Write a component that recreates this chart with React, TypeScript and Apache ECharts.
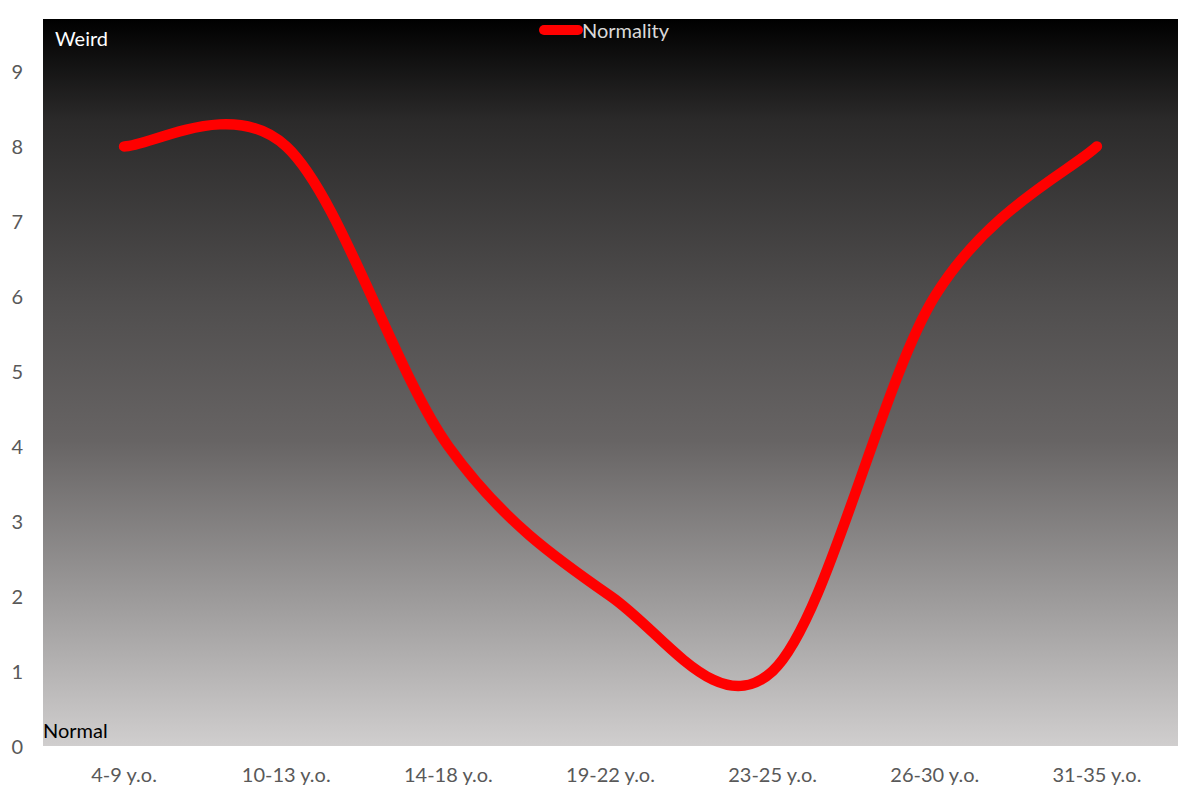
import React, { useEffect, useRef } from "react";
import * as echarts from "echarts";

const categories = ["4-9 y.o.", "10-13 y.o.", "14-18 y.o.", "19-22 y.o.", "23-25 y.o.", "26-30 y.o.", "31-35 y.o."];
const normality = [8, 8, 4, 2, 1, 6, 8];
const seriesName = "Normality";
const topLabel = "Weird";
const bottomLabel = "Normal";

export default function App() {
  const ref = useRef<HTMLDivElement>(null);
  useEffect(() => {
    if (!ref.current) return;
    const chart = echarts.init(ref.current, undefined, { renderer: "svg" });
    const font = "Lato, 'Open Sans', sans-serif";
    chart.setOption({
      animation: false,
      backgroundColor: "#ffffff",
      grid: {
        left: 43,
        right: 22,
        top: 19,
        bottom: 54,
        show: true,
        borderWidth: 0,
        backgroundColor: new echarts.graphic.LinearGradient(0, 0, 0, 1, [
          { offset: 0, color: "#000000" },
          { offset: 0.14, color: "#2b2a2a" },
          { offset: 0.39, color: "#504e4e" },
          { offset: 0.58, color: "#676464" },
          { offset: 0.8, color: "#9d9b9b" },
          { offset: 1, color: "#d0cece" },
        ]),
      },
      legend: {
        data: [{ name: seriesName, icon: "path://M5,0 H39 A5,5 0 0 1 39,10 H5 A5,5 0 0 1 5,0 Z" }],
        top: 15,
        left: 534,
        itemWidth: 44,
        itemHeight: 10,
        itemStyle: { color: "#ff0000" },
        textStyle: { color: "#d9d9d9", fontSize: 20, fontFamily: font, padding: [0, 0, 0, -6] },
      },
      xAxis: {
        type: "category",
        data: categories,
        boundaryGap: true,
        axisLine: { show: false },
        axisTick: { show: false },
        axisLabel: { color: "#595959", fontSize: 20, fontFamily: font, margin: 18 },
      },
      yAxis: {
        type: "value",
        min: 0,
        max: 9.7,
        interval: 1,
        axisLine: { show: false },
        axisTick: { show: false },
        splitLine: { show: false },
        axisLabel: { color: "#595959", fontSize: 20, fontFamily: font, margin: 20, showMaxLabel: false },
      },
      series: [
        {
          name: seriesName,
          type: "custom",
          data: normality.map((v, i) => [i, v]),
          encode: { x: 0, y: 1 },
          itemStyle: { color: "#ff0000" },
          renderItem: (params: any, api: any) => {
            if (params.dataIndex !== 0) return null;
            const pts = normality.map((v, i) => api.coord([i, v]));
            const n = pts.length;
            const P = (k: number) => pts[Math.max(0, Math.min(n - 1, k))];
            let d = `M${pts[0][0]},${pts[0][1]}`;
            for (let i = 0; i < n - 1; i++) {
              const p0 = P(i - 1), p1 = P(i), p2 = P(i + 1), p3 = P(i + 2);
              const c1x = p1[0] + (p2[0] - p0[0]) / 6;
              const c1y = p1[1] + (p2[1] - p0[1]) / 6;
              const c2x = p2[0] - (p3[0] - p1[0]) / 6;
              const c2y = p2[1] - (p3[1] - p1[1]) / 6;
              d += ` C${c1x},${c1y} ${c2x},${c2y} ${p2[0]},${p2[1]}`;
            }
            return {
              type: "path",
              shape: { pathData: d },
              style: { fill: "none", stroke: "#ff0000", lineWidth: 10.5, lineCap: "round", lineJoin: "round" },
            };
          },
        },
      ],
      graphic: [
        {
          type: "text",
          left: 55,
          top: 28,
          style: { text: topLabel, fill: "#ffffff", fontSize: 20, fontFamily: font },
        },
        {
          type: "text",
          left: 43,
          top: 720,
          style: { text: bottomLabel, fill: "#000000", fontSize: 20, fontFamily: font },
        },
      ],
    });
    return () => chart.dispose();
  }, []);
  return <div ref={ref} style={{ position: "fixed", left: 0, top: 0, width: 1200, height: 800 }} />;
}
